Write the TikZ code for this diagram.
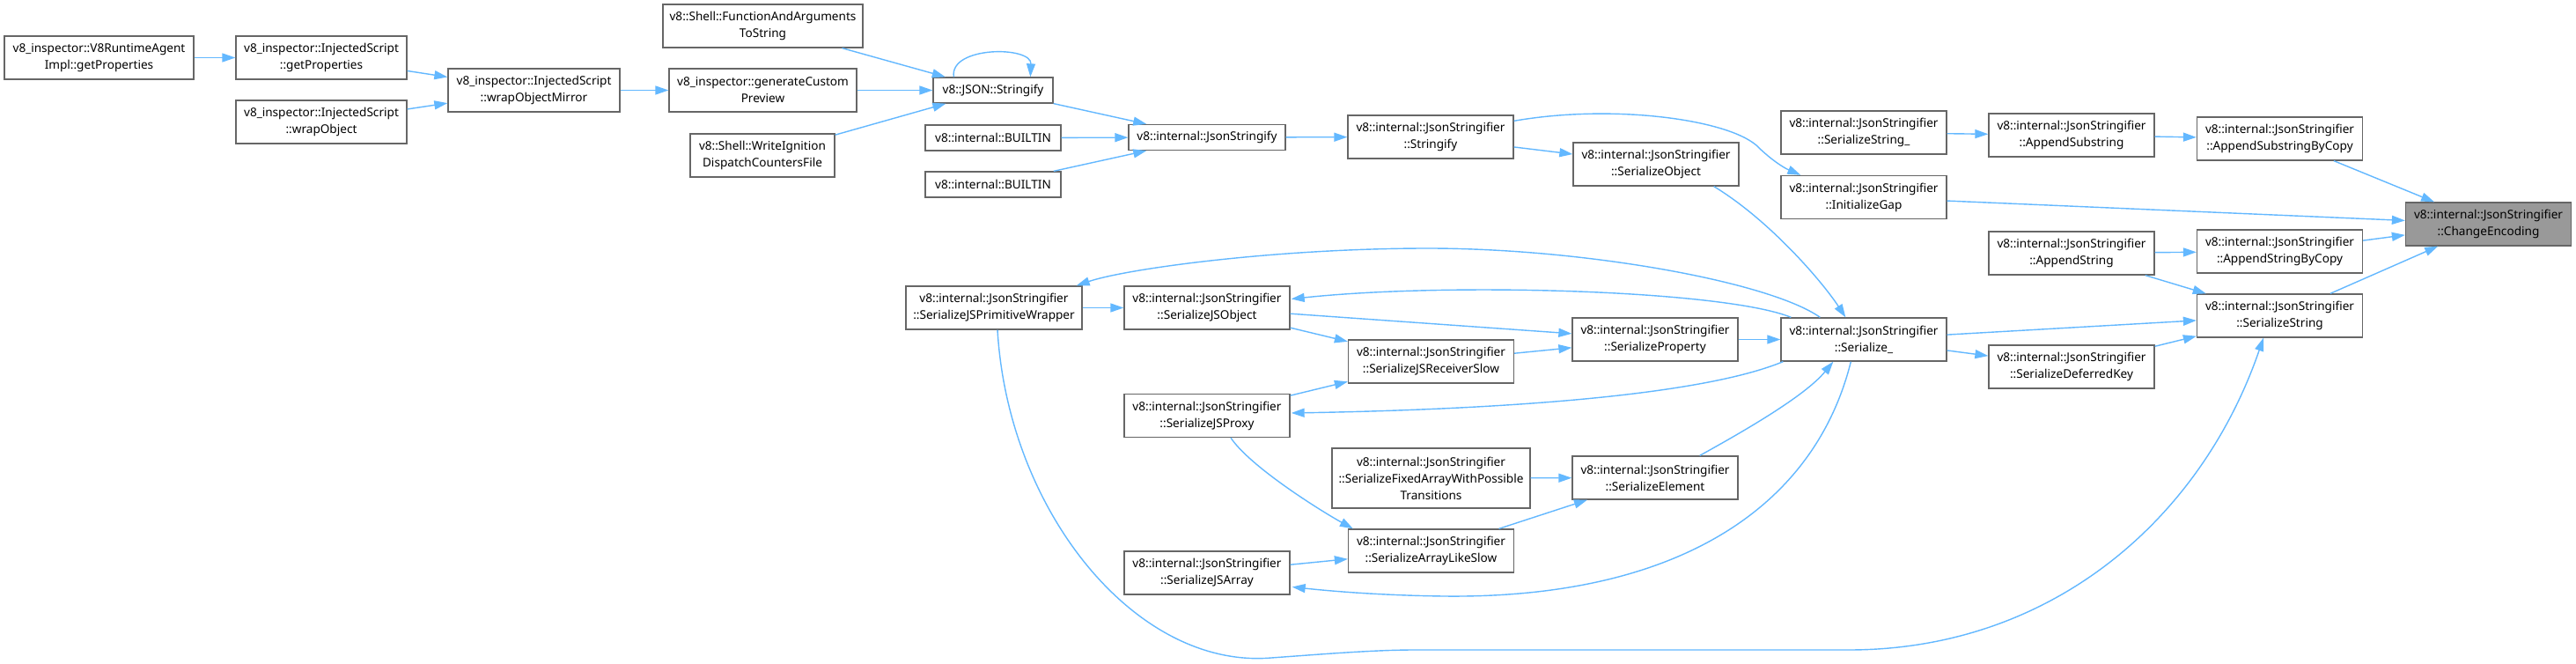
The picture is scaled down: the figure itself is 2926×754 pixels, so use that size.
\documentclass[tikz,border=0pt]{standalone}
\usepackage{fontspec}
\setmainfont{Noto Sans}
\usetikzlibrary{arrows.meta,calc}
\definecolor{edgeblue}{HTML}{63B8FF}
\definecolor{boxgrey}{HTML}{666666}
\definecolor{focusgrey}{HTML}{999999}
\begin{document}
\begin{tikzpicture}[
  x=1pt, y=-1pt,
  font=\fontsize{13.6}{19}\selectfont,
  fn/.style={rectangle, draw=boxgrey, line width=1.3pt, fill=white,
             minimum width=188pt, minimum height=49pt, inner sep=0pt, align=center},
  fnone/.style={fn, minimum height=29pt},
  focus/.style={fn, fill=focusgrey},
  call/.style={draw=edgeblue, line width=1.4pt, -{Triangle[length=15pt,width=10pt]}}
]
\useasboundingbox (0,0) rectangle (2926,754);
\fill[white] (0,0) rectangle (2926,754);
% inspector callers
\node[fn, minimum width=215pt] (rtagent)  at (112.5,65.5) {v8\_inspector::V8RuntimeAgent\\Impl::getProperties};
\node[fn, minimum width=194pt] (isprops)  at (365,65.5)   {v8\_inspector::InjectedScript\\::getProperties};
\node[fn, minimum width=194pt] (iswrap)   at (365,138.5)  {v8\_inspector::InjectedScript\\::wrapObject};
\node[fn, minimum width=195pt] (ismirror) at (606.5,102.5){v8\_inspector::InjectedScript\\::wrapObjectMirror};
\node[fn, minimum width=213pt] (custprev) at (866.5,102.5){v8\_inspector::generateCustom\\Preview};
\node[fn, minimum width=227pt] (fnargs)   at (866.5,29.5) {v8::Shell::FunctionAndArguments\\ToString};
\node[fn, minimum width=164pt] (ignition) at (866,176.5)  {v8::Shell::WriteIgnition\\DispatchCountersFile};
% json entry points
\node[fnone, minimum width=136pt] (jsonstr)  at (1128,102.5) {v8::JSON::Stringify};
\node[fnone, minimum width=154pt] (builtina) at (1128,156.5) {v8::internal::BUILTIN};
\node[fnone, minimum width=154pt] (builtinb) at (1128,209.5) {v8::internal::BUILTIN};
\node[fnone, minimum width=178pt] (jsonify)  at (1371,156)   {v8::internal::JsonStringify};
% stringifier, upper part
\node[fn] (stringify)  at (1625,155.5)  {v8::internal::JsonStringifier\\::Stringify};
\node[fn] (serobj)     at (1881,186.5)  {v8::internal::JsonStringifier\\::SerializeObject};
\node[fn] (serstrx)    at (2117,150.5)  {v8::internal::JsonStringifier\\::SerializeString\_};
\node[fn] (initgap)    at (2117,224)    {v8::internal::JsonStringifier\\::InitializeGap};
\node[fn] (appsub)     at (2353,153.5)  {v8::internal::JsonStringifier\\::AppendSubstring};
\node[fn] (appsubcopy) at (2589.5,157.5){v8::internal::JsonStringifier\\::AppendSubstringByCopy};
\node[focus] (changeenc) at (2826.5,254.5){v8::internal::JsonStringifier\\::ChangeEncoding};
\node[fn] (appstr)     at (2353,287.5)  {v8::internal::JsonStringifier\\::AppendString};
\node[fn] (appstrcopy) at (2589.5,285.5){v8::internal::JsonStringifier\\::AppendStringByCopy};
\node[fn] (serstring)  at (2589.5,358.5){v8::internal::JsonStringifier\\::SerializeString};
% stringifier, lower part
\node[fn] (serialize)  at (2117,385.5)  {v8::internal::JsonStringifier\\::Serialize\_};
\node[fn] (serprop)    at (1880,385.5)  {v8::internal::JsonStringifier\\::SerializeProperty};
\node[fn] (defkey)     at (2353,416.5)  {v8::internal::JsonStringifier\\::SerializeDeferredKey};
\node[fn, minimum width=200pt] (primwrap) at (1129,349.5) {v8::internal::JsonStringifier\\::SerializeJSPrimitiveWrapper};
\node[fn] (jsobj)      at (1371,349.5)  {v8::internal::JsonStringifier\\::SerializeJSObject};
\node[fn] (recvslow)   at (1625.5,410.5){v8::internal::JsonStringifier\\::SerializeJSReceiverSlow};
\node[fn] (jsproxy)    at (1371,472)    {v8::internal::JsonStringifier\\::SerializeJSProxy};
\node[fn, minimum width=225pt, minimum height=68pt] (fixedarr) at (1625.5,543)
  {v8::internal::JsonStringifier\\::SerializeFixedArrayWithPossible\\Transitions};
\node[fn] (serelem)    at (1880,542.5)  {v8::internal::JsonStringifier\\::SerializeElement};
\node[fn] (arrlike)    at (1625.5,625.5){v8::internal::JsonStringifier\\::SerializeArrayLikeSlow};
\node[fn] (jsarr)      at (1371,650.5)  {v8::internal::JsonStringifier\\::SerializeJSArray};
% calls, left part
\draw[call] (rtagent) -- (isprops);
\draw[call] (isprops) -- (ismirror);
\draw[call] (iswrap) -- (ismirror);
\draw[call] (ismirror) -- (custprev);
\draw[call] (custprev) -- (jsonstr);
\draw[call] (fnargs) -- (jsonstr);
\draw[call] (ignition) -- (jsonstr);
\draw[call] ($(jsonstr.north west)+(24,0)$) .. controls (1078,52) and (1172,52) .. ($(jsonstr.north west)+(111,0)$);
\draw[call] (jsonstr) -- (jsonify);
\draw[call] (builtina) -- (jsonify);
\draw[call] (builtinb) -- (jsonify);
\draw[call] (jsonify) -- (stringify);
\draw[call] (stringify) -- (serobj);
\draw[call] ($(stringify.north east)+(0,7)$) .. controls (1830,118) and (1960,135) .. (1995,165)
  .. controls (2010,180) and (2025,190) .. ($(initgap.north west)+(23,0)$);
% calls, right part
\draw[call] (serstrx) -- (appsub);
\draw[call] (appsub) -- (appsubcopy);
\draw[call] (appsubcopy) -- (changeenc);
\draw[call] (initgap) -- (changeenc);
\draw[call] (appstrcopy) -- (changeenc);
\draw[call] (serstring) -- (changeenc);
\draw[call] (appstr) -- (appstrcopy);
\draw[call] (appstr) -- (serstring);
\draw[call] ($(serobj.south east)+(-29,0)$) .. controls (2010,250) and (2070,320) .. ($(serialize.north west)+(74,0)$);
\draw[call] (serialize) -- (serstring);
\draw[call] (serialize) -- (defkey);
\draw[call] (defkey) -- (serstring);
% calls, lower part
\draw[call] ($(serialize.north west)+(45,0)$) .. controls (2010,320) and (1800,282) .. (1622,282)
  .. controls (1450,282) and (1280,305) .. ($(primwrap.north east)+(-7,0)$);
\draw[call] ($(serialize.north west)+(12,0)$) .. controls (1960,330) and (1650,320) .. ($(jsobj.east)+(1,-10)$);
\draw[call] (primwrap) -- (jsobj);
\draw[call] (jsobj) -- (serprop);
\draw[call] (jsobj) -- (recvslow);
\draw[call] (recvslow) -- (serprop);
\draw[call] (jsproxy) -- (recvslow);
\draw[call] (serprop) -- (serialize);
\draw[call] ($(serialize.south west)+(3,0)$) .. controls (1930,450) and (1700,465) .. ($(jsproxy.east)+(1,-3)$);
\draw[call] ($(jsproxy.south)+(27,0)$) .. controls (1420,530) and (1500,580) .. ($(arrlike.north west)+(6,0)$);
\draw[call] (fixedarr) -- (serelem);
\draw[call] (arrlike) -- (serelem);
\draw[call] ($(serelem.north east)+(-44,0)$) .. controls (1980,490) and (2050,450) .. ($(serialize.south west)+(60,0)$);
\draw[call] ($(serialize.south west)+(80,0)$) .. controls (2060,580) and (1900,680) .. (1640,677)
  .. controls (1560,676) and (1500,670) .. ($(jsarr.east)+(2,16)$);
\draw[call] (jsarr) -- (arrlike);
\draw[call] ($(primwrap.south)+(4,0)$) .. controls (1145,580) and (1290,760) .. (1444,747)
  .. controls (1500,743) and (1560,738) .. (1607,738) -- (2100,738)
  .. controls (2330,738) and (2500,590) .. ($(serstring.south)+(-18.5,0)$);
\end{tikzpicture}
\end{document}
